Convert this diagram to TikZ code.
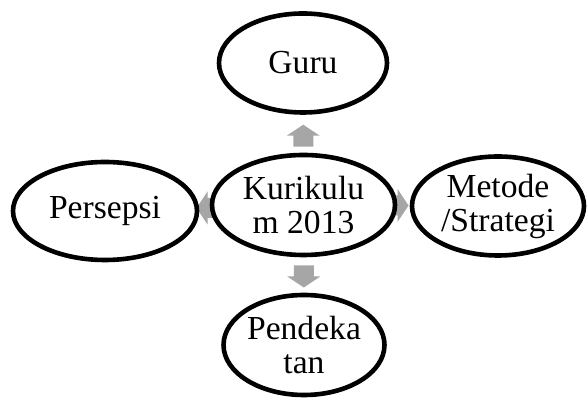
\documentclass[tikz,border=0pt]{standalone}
\usepackage{fontspec}
\setmainfont{Liberation Serif}
\usetikzlibrary{shapes.geometric,calc,backgrounds}
\definecolor{arrgray}{RGB}{166,166,166}

\tikzset{
	bubble/.style={ellipse, draw=black, line width=2.3pt, fill=white, inner sep=0pt,
		align=center, font=\fontsize{16.8}{17}\selectfont},
	blockarr/.style={fill=arrgray, draw=none}
}

% block arrow: #1 centre, #2 direction
\newcommand{\blockarrow}[2]{%
	\fill[blockarr, shift={#1}, rotate=#2]
		(-11,-10) -- (0,-10) -- (0,-16.5) -- (11,0) -- (0,16.5) -- (0,10) -- (-11,10) -- cycle;}

\begin{document}
\begin{tikzpicture}[x=0.5pt, y=-0.5pt]

		\useasboundingbox (0,0) rectangle (587,399);

		% ellipses
		\node[bubble, minimum width=91.5pt, minimum height=50pt] (kur) at (303.5,205) {Kurikulu\\m 2013};
		\node[bubble, minimum width=84pt, minimum height=49.5pt] (guru) at (303,63) {Guru};
		\node[bubble, minimum width=86pt, minimum height=49.5pt] (metode) at (498,206) {Metode\\/Strategi};
		\node[bubble, minimum width=92pt, minimum height=49pt] (persepsi) at (105,211) {Persepsi};
		\node[bubble, minimum width=79pt, minimum height=50pt] (pendekatan) at (304,345) {Pendeka\\tan};

		% arrows behind the ellipses
		\begin{scope}[on background layer]
			\blockarrow{($(kur.north)!0.5!(guru.south)+(0,2)$)}{90}
			\blockarrow{($(kur.south)!0.5!(pendekatan.north)+(0,1.5)$)}{270}
			\blockarrow{($(kur.west)!0.5!(persepsi.east)+(3,0)$)}{180}
			\blockarrow{($(kur.east)!0.5!(metode.west)+(-6,0)$)}{0}
		\end{scope}

	\end{tikzpicture}
\end{document}
